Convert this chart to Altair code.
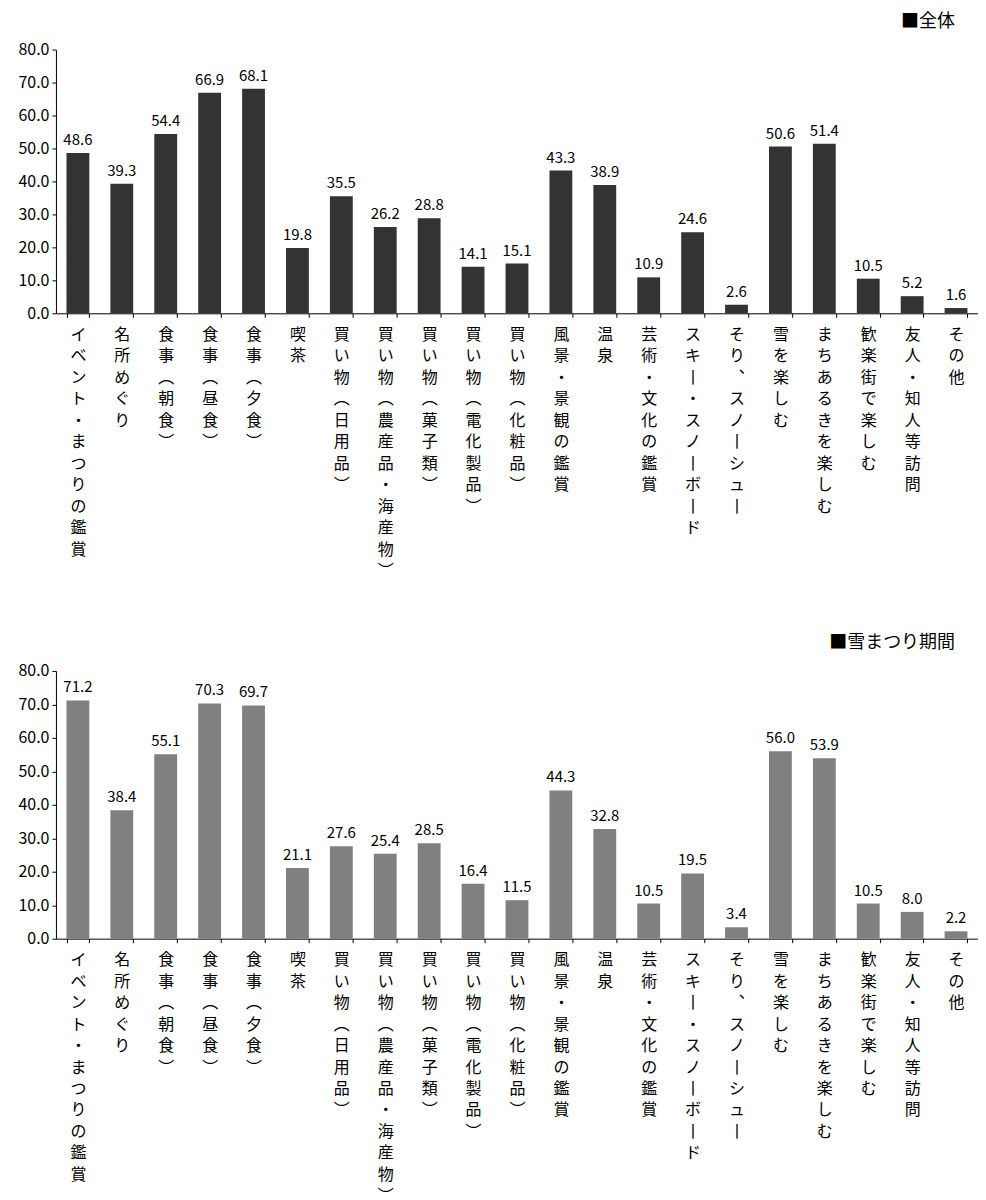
import altair as alt
import pandas as pd

categories = [
    "イベント・まつりの鑑賞", "名所めぐり", "食事（朝食）", "食事（昼食）", "食事（夕食）",
    "喫茶", "買い物（日用品）", "買い物（農産品・海産物）", "買い物（菓子類）",
    "買い物（電化製品）", "買い物（化粧品）", "風景・景観の鑑賞", "温泉",
    "芸術・文化の鑑賞", "スキー・スノーボード", "そり、スノーシュー", "雪を楽しむ",
    "まちあるきを楽しむ", "歓楽街で楽しむ", "友人・知人等訪問", "その他",
]
values_all = [48.6, 39.3, 54.4, 66.9, 68.1, 19.8, 35.5, 26.2, 28.8, 14.1, 15.1,
              43.3, 38.9, 10.9, 24.6, 2.6, 50.6, 51.4, 10.5, 5.2, 1.6]
values_festival = [71.2, 38.4, 55.1, 70.3, 69.7, 21.1, 27.6, 25.4, 28.5, 16.4, 11.5,
                   44.3, 32.8, 10.5, 19.5, 3.4, 56.0, 53.9, 10.5, 8.0, 2.2]
titles = ["■全体", "■雪まつり期間"]
colors = ["#333333", "#808080"]
y_ticks = [0, 10, 20, 30, 40, 50, 60, 70, 80]

FONT = "Noto Sans CJK JP"

def vertical(s):
    return (s.replace("（", "︵").replace("）", "︶")
             .replace("ー", "丨").replace("、", "︑"))

vcats = [vertical(c) for c in categories]


def panel(vals, title, color, height):
    df = pd.DataFrame({"cat": vcats, "value": vals})
    base = alt.Chart(df).encode(
        x=alt.X("cat:N", sort=vcats, title=None,
                scale=alt.Scale(paddingInner=0.48, paddingOuter=0.24),
                axis=alt.Axis(labelAngle=0, labelExpr="split(datum.label, '')",
                              labelLineHeight=21.5, labelFontSize=16,
                              labelBaseline="top", labelPadding=9,
                              labelOverlap=False, labelFont=FONT,
                              labelColor="#000000", tickBand="extent",
                              tickColor="#000000", tickSize=4,
                              domainColor="#000000")),
        y=alt.Y("value:Q", title=None,
                scale=alt.Scale(domain=[0, 80], nice=False),
                axis=alt.Axis(values=y_ticks, format=".1f", grid=False,
                              labelFontSize=16, labelFont=FONT,
                              labelColor="#000000", tickColor="#000000",
                              tickSize=4, domainColor="#000000", labelPadding=3)),
    )
    bars = base.mark_bar(color=color)
    text = base.mark_text(dy=-13, fontSize=15, font=FONT, color="#000000").encode(
        text=alt.Text("value:Q", format=".1f"))
    return (bars + text).properties(
        width=923, height=height,
        title=alt.TitleParams(title, anchor="end", fontSize=18, font=FONT,
                              fontWeight="normal", color="#000000", dx=-23,
                              offset=11))


chart = alt.vconcat(
    panel(values_all, titles[0], colors[0], 264),
    panel(values_festival, titles[1], colors[1], 268),
    spacing=55,
).properties(padding={"left": 9, "top": 4, "right": 0, "bottom": 5}
).configure_view(stroke=None)

chart.save("out.html", embed_options={"renderer": "svg", "actions": False})
